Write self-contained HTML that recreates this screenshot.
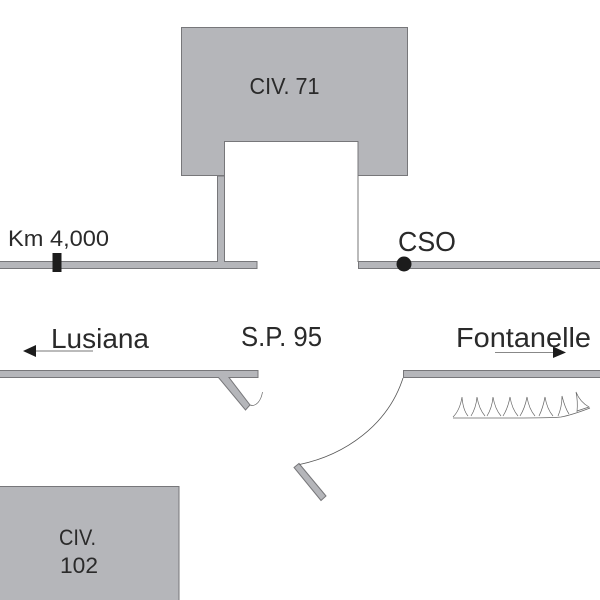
<!DOCTYPE html>
<html>
<head>
<meta charset="utf-8">
<style>
html,body{margin:0;padding:0;background:#fff}
svg{display:block}
text{font-family:"Liberation Sans",sans-serif;fill:#2a2a2a}
</style>
</head>
<body>
<svg width="600" height="600" viewBox="0 0 600 600" xmlns="http://www.w3.org/2000/svg">
<rect width="600" height="600" fill="#fff"/>
<g fill="#b5b6ba" stroke="#77777a" stroke-width="1">
<path d="M181.500 27.500H407.500V175.500H358V141.500H224.500V175.500H181.500Z"/>
<rect x="-2" y="486.500" width="181" height="116"/>
<path d="M217.500 176V261.500H-2V268.500H257V261.500H224.500V176Z"/>
<path d="M602 261.500H358.500V268.500H602Z"/>
<path d="M-2 370.500H258V377.500H229L250 405L245.500 410L218.500 377.500H-2Z"/>
<path d="M602 370.500H403.500V377.500H602Z"/>
<path d="M294 467.500L299 463.500L326 496L321 500.500Z"/>
</g>
<path d="M358 176V262" fill="none" stroke="#777" stroke-width="1"/>
<path d="M250 405C256 407 261 401 262.500 392" fill="none" stroke="#666" stroke-width="0.700"/>
<path d="M299.500 464.500C345 455 388 425 403 378" fill="none" stroke="#555" stroke-width="0.800"/>
<rect x="52.500" y="253" width="9" height="19" fill="#1c1c1c"/>
<circle cx="404" cy="264" r="7.500" fill="#1c1c1c"/>
<path d="M93 351H34" stroke="#777" stroke-width="1"/>
<path d="M23 351L36 345V357Z" fill="#1c1c1c"/>
<path d="M495 352.500H556" stroke="#888" stroke-width="1"/>
<path d="M566 352.500L553 346.500V358Z" fill="#1c1c1c"/>
<g fill="none" stroke="#666" stroke-width="0.700">
<path d="M453 417Q460 410 462 397Q463 410 468 416"/>
<path d="M471 416Q476 408 477 397Q479 409 485 416"/>
<path d="M487 416Q492 408 493 397Q495 409 501 416"/>
<path d="M503 416Q508 408 510 397Q512 409 518 416"/>
<path d="M520 416Q525 408 527 397Q529 409 535 416"/>
<path d="M539 416Q543 408 545 397Q547 409 553 416"/>
<path d="M558 416Q562 407 562 396Q565 408 569 414"/>
<path d="M577 412Q578 401 576 392Q580 402 589 407L577 411"/>
<path d="M453 418H505C530 418 552 418 561 417C572 415 582 411 590 408"/>
</g>
<text x="249.500" y="94" font-size="23" textLength="70" lengthAdjust="spacingAndGlyphs">CIV. 71</text>
<text x="8" y="246" font-size="22" textLength="101" lengthAdjust="spacingAndGlyphs">Km 4,000</text>
<text x="398" y="251" font-size="28" textLength="58" lengthAdjust="spacingAndGlyphs">CSO</text>
<text x="51" y="348" font-size="28" textLength="98" lengthAdjust="spacingAndGlyphs">Lusiana</text>
<text x="241" y="346" font-size="28" textLength="81" lengthAdjust="spacingAndGlyphs">S.P. 95</text>
<text x="456" y="347" font-size="28" textLength="135" lengthAdjust="spacingAndGlyphs">Fontanelle</text>
<text x="59" y="545" font-size="22" textLength="37" lengthAdjust="spacingAndGlyphs">CIV.</text>
<text x="60" y="573" font-size="22" textLength="38" lengthAdjust="spacingAndGlyphs">102</text>
</svg>
</body>
</html>
